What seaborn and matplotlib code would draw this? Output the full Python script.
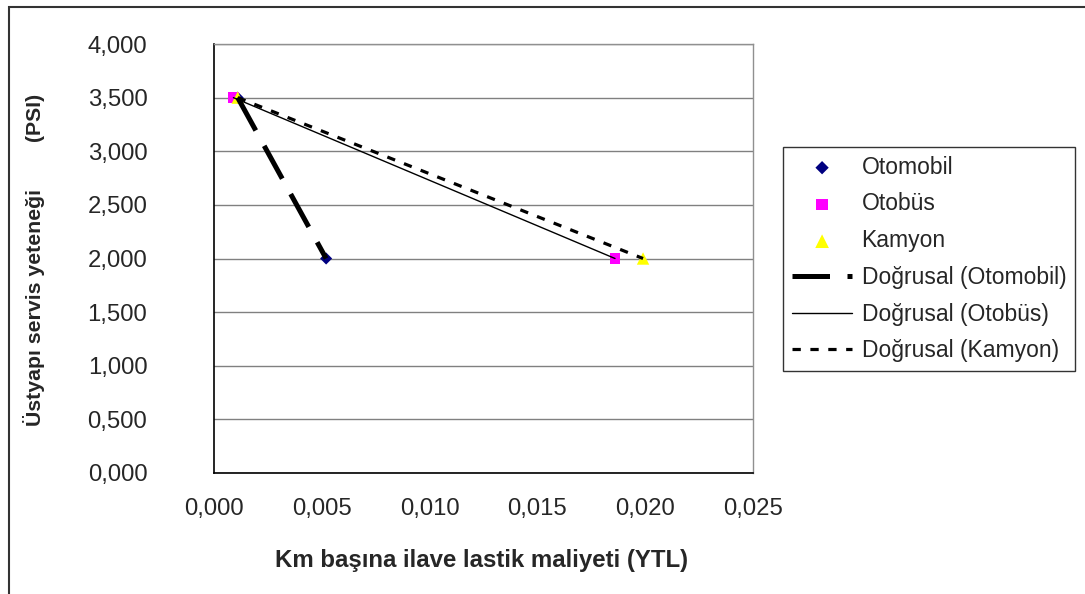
import numpy as np
import pandas as pd
import matplotlib
matplotlib.use("Agg")
import matplotlib.pyplot as plt
from matplotlib.patches import Rectangle
import seaborn as sns

# Per-kilometre extra tyre cost (YTL) against pavement serviceability (PSI)
series_names = ["Otomobil", "Otobüs", "Kamyon"]
otomobil_x = [0.0011, 0.0052]
otomobil_y = [3.5, 2.0]
otobus_x = [0.0009, 0.0186]
otobus_y = [3.5, 2.0]
kamyon_x = [0.0011, 0.0199]
kamyon_y = [3.5, 2.0]

x_ticks = [0.000, 0.005, 0.010, 0.015, 0.020, 0.025]
x_tick_labels = ["0,000", "0,005", "0,010", "0,015", "0,020", "0,025"]
y_ticks = [0.0, 0.5, 1.0, 1.5, 2.0, 2.5, 3.0, 3.5, 4.0]
y_tick_labels = ["0,000", "0,500", "1,000", "1,500", "2,000",
                 "2,500", "3,000", "3,500", "4,000"]

x_label = "Km başına ilave lastik maliyeti (YTL)"
y_label = "Üstyapı servis yeteneği        (PSI)"

sns.set_style("white")
plt.rcParams["font.family"] = ["Liberation Sans", "DejaVu Sans"]

df = pd.DataFrame({
    "x": otomobil_x + otobus_x + kamyon_x,
    "y": otomobil_y + otobus_y + kamyon_y,
    "series": ["Otomobil"] * 2 + ["Otobüs"] * 2 + ["Kamyon"] * 2,
})

marker_style = {
    "Otomobil": dict(marker="D", color="#000080", s=38),
    "Otobüs": dict(marker="s", color="#FF00FF", s=55),
    "Kamyon": dict(marker="^", color="#FFFF00", s=80),
}
trend_style = {
    "Otomobil": dict(lw=3.6, linestyle=(0, (7.5, 3.5))),
    "Otobüs": dict(lw=1.0, linestyle="-"),
    "Kamyon": dict(lw=2.3, linestyle=(0, (2.6, 3.0))),
}

W, H = 1085, 594
fig = plt.figure(figsize=(W / 100, H / 100), dpi=100)
fig.patch.set_facecolor("white")
ax = fig.add_axes([214 / W, 1 - 473 / H, (753 - 214) / W, (473 - 44) / H])

# markers
for name in series_names:
    sub = df[df["series"] == name]
    st = marker_style[name]
    sns.scatterplot(x=sub["x"], y=sub["y"], ax=ax, marker=st["marker"],
                    color=st["color"], s=st["s"], edgecolor="none",
                    linewidth=0, label=name, zorder=3)

# linear trend lines ("Doğrusal")
for name in series_names:
    sub = df[df["series"] == name]
    slope, intercept = np.polyfit(sub["x"], sub["y"], 1)
    xs = np.array([sub["x"].min(), sub["x"].max()])
    trend = pd.DataFrame({"x": xs, "y": slope * xs + intercept})
    st = trend_style[name]
    sns.lineplot(data=trend, x="x", y="y", ax=ax, color="black",
                 lw=st["lw"], linestyle=st["linestyle"],
                 dash_capstyle="butt", label=f"Doğrusal ({name})", zorder=4)

handles, labels = ax.get_legend_handles_labels()
if ax.get_legend() is not None:
    ax.get_legend().remove()

ax.set_xlim(0, 0.025)
ax.set_ylim(0, 4)
ax.set_xticks(x_ticks)
ax.set_xticklabels(x_tick_labels)
ax.set_yticks(y_ticks)
ax.set_yticklabels(y_tick_labels)

ax.grid(axis="y", color="#808080", lw=1.0)
ax.grid(axis="x", visible=False)
ax.set_axisbelow(True)

for side in ["top", "right"]:
    ax.spines[side].set_color("#909090")
    ax.spines[side].set_linewidth(1.0)
for side in ["left", "bottom"]:
    ax.spines[side].set_color("black")
    ax.spines[side].set_linewidth(1.2)

TICK_FS = 17.2
ax.tick_params(axis="y", direction="inout", length=10, width=1,
               color="black", pad=43, labelsize=TICK_FS)
ax.tick_params(axis="x", direction="out", length=6, width=1,
               color="black", pad=12, labelsize=TICK_FS)

ax.set_xlabel(x_label, fontsize=17.3, fontweight="bold")
ax.set_ylabel(y_label, fontsize=15.3, fontweight="bold")
ax.xaxis.set_label_coords(0.497, -0.176)
ax.yaxis.set_label_coords(-0.313, 0.497)

leg = fig.legend(handles, labels, loc="upper left",
                 bbox_to_anchor=(783 / W, 1 - 147 / H),
                 bbox_transform=fig.transFigure,
                 fontsize=16.5, frameon=True, fancybox=False, shadow=False,
                 handlelength=2.65, handletextpad=0.4, labelspacing=0.6,
                 borderpad=0.38, borderaxespad=0, markerscale=1.1)
leg.get_frame().set_edgecolor("black")
leg.get_frame().set_linewidth(1.0)

# outer chart border (runs off the right and bottom edges)
fig.add_artist(Rectangle((9 / W, -0.05), 1.2, (H - 7) / H + 0.05,
                         transform=fig.transFigure, fill=False,
                         edgecolor="#333333", lw=1.5))

fig.savefig("out.png", dpi=100, facecolor="white")
